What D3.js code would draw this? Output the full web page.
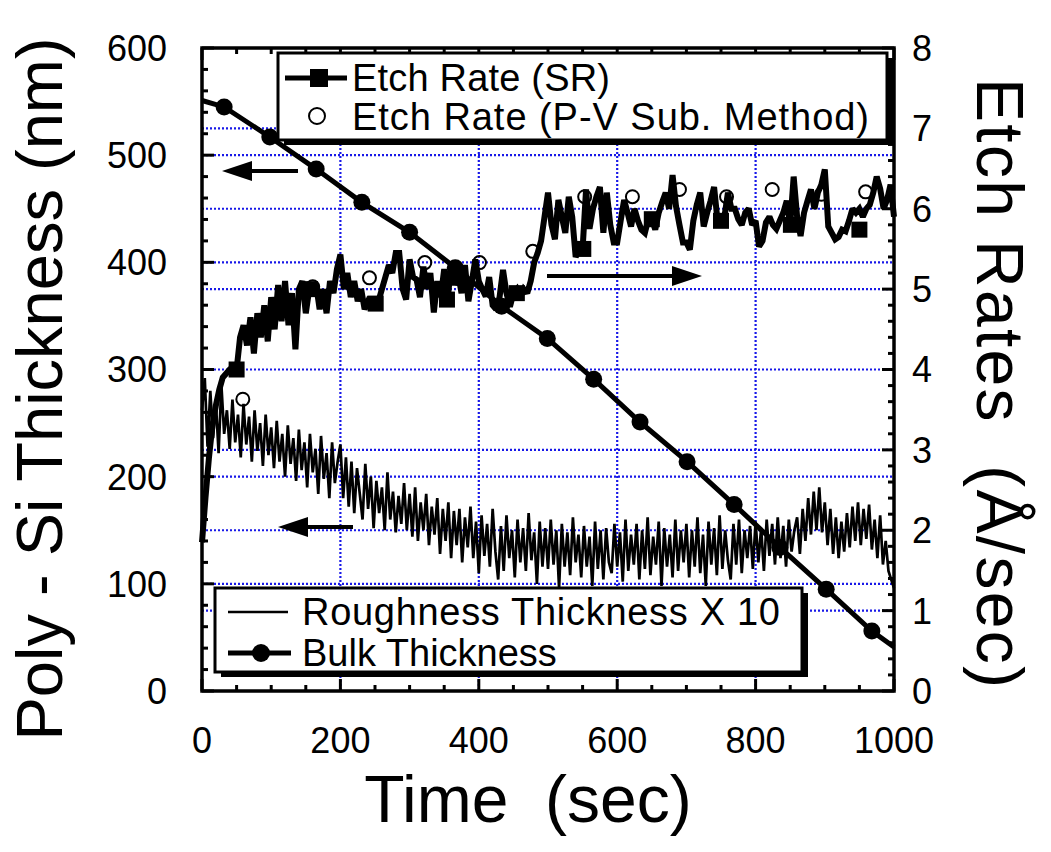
<!DOCTYPE html>
<html><head><meta charset="utf-8">
<script src="https://cdn.jsdelivr.net/npm/d3@7"></script>
<style>body{margin:0;background:#fff} svg{display:block} text{font-family:"Liberation Sans",Arial,sans-serif;fill:#000}</style>
</head><body><svg id="c" width="1051" height="852"></svg>
<script>
// ---------- data ----------
const xTicks = [0, 200, 400, 600, 800, 1000];
const leftTicks = [0, 100, 200, 300, 400, 500, 600];
const rightTicks = [0, 1, 2, 3, 4, 5, 6, 7, 8];

const bulkTime = [0, 32, 98, 165, 231, 300, 366, 433, 499, 566, 633, 701, 769, 835, 902, 968, 1000];
const bulkThickness = [551, 545, 517, 487, 456, 428, 395, 359, 329, 291, 251, 214, 174, 134, 95, 56, 41];
const bulkMarkerTime = [32, 98, 165, 231, 300, 366, 433, 499, 566, 633, 701, 769, 835, 902, 968];

const roughStep = 4;
const roughness = [
262,292,228,280,236,270,222,286,240,262,226,272,232,258,218,268,230,256,214,262,224,250,210,258,220,
246,208,252,214,240,200,248,212,236,196,244,206,232,190,240,204,226,184,238,198,222,180,232,194,214,
230,180,218,172,214,166,208,184,160,212,170,200,152,196,166,190,150,204,160,186,148,182,156,194,150,
184,144,190,140,176,150,184,136,172,146,180,128,170,140,176,124,168,136,170,120,162,134,172,124,158,
110,164,126,156,116,170,130,104,154,112,164,124,150,106,160,120,152,112,166,122,148,100,158,116,152,
114,160,118,150,96,156,116,148,108,162,120,146,106,154,116,144,98,158,114,150,104,152,120,110,156,
116,148,102,160,112,146,118,156,104,150,114,162,108,144,118,158,98,152,116,146,106,160,112,150,120,
156,106,150,116,162,110,146,98,158,118,152,108,164,114,150,122,104,156,118,160,110,150,124,154,114,
158,120,152,112,160,126,156,118,162,124,154,116,160,130,150,162,128,170,140,180,146,186,150,190,148,
176,136,170,128,162,124,158,130,166,134,172,140,176,136,170,142,174,132,160,124,164,118,140,112,104,96];

const srStep = 5;
const etchRateSR = [
1.85,2.4,2.9,3.3,3.55,3.75,3.9,3.95,4.0,4.0,4.0,4.4,4.55,4.3,4.65,4.2,4.7,4.4,4.8,4.35,
4.9,4.5,5.05,4.6,5.1,4.55,4.95,4.25,5.0,5.1,4.7,5.0,5.0,5.05,4.75,5.0,4.7,5.1,4.95,5.25,
5.43,5.0,5.2,4.9,5.1,4.85,5.0,4.75,4.85,4.8,4.82,4.85,5.0,5.15,5.3,5.2,5.45,5.45,5.0,4.87,
5.37,5.15,5.12,4.9,5.28,5.0,5.2,4.71,5.1,4.9,5.25,4.87,5.3,5.05,5.2,4.95,5.3,4.85,5.1,5.37,
5.1,5.0,4.91,5.15,4.8,4.75,4.9,5.24,4.95,4.78,4.95,5.0,4.9,5.0,4.95,5.1,5.33,5.45,5.6,5.9,
6.2,5.8,5.62,6.11,5.9,5.7,6.15,5.9,5.4,5.5,5.5,6.24,5.75,6.0,6.15,6.27,5.7,6.2,5.8,5.58,
5.58,5.85,6.11,5.95,5.78,6.0,5.85,5.74,5.7,5.87,5.87,5.74,5.95,6.08,6.2,6.0,6.42,6.03,5.8,5.58,
5.58,5.49,5.85,6.05,6.2,5.78,5.95,6.1,6.27,5.85,5.85,5.9,6.2,6.0,6.0,5.87,5.8,5.95,6.0,5.8,
5.85,5.53,5.6,5.83,5.9,5.8,5.75,5.85,5.95,6.1,5.8,6.4,5.9,5.66,5.95,6.1,6.24,6.0,6.2,6.3,
6.49,5.78,5.7,5.62,5.65,5.74,5.72,5.85,6.0,5.95,6.0,5.9,6.0,6.05,6.2,6.4,6.25,6.0,6.11,6.3,5.9];
const srMarkerTime = [50, 156, 251, 354, 455, 551, 650, 750, 851, 950];
const srMarkerRate = [4.0, 5.0, 4.82, 4.87, 4.95, 5.5, 5.87, 5.85, 5.8, 5.74];

const pvTime = [59, 160, 242, 322, 401, 478, 553, 622, 690, 758, 824, 895, 959];
const pvRate = [3.63, 5.03, 5.14, 5.33, 5.33, 5.47, 6.15, 6.15, 6.24, 6.15, 6.24, 6.18, 6.21];

// ---------- layout ----------
const svg = d3.select("#c");
const L = 202, R = 894, T = 48, B = 691;
const x = d3.scaleLinear().domain([0, 1000]).range([L, R]);
const yL = d3.scaleLinear().domain([0, 600]).range([B, T]);
const yR = d3.scaleLinear().domain([0, 8]).range([B, T]);
const grid = "#1818e8";

// grid
const g = svg.append("g");
[200, 400, 600, 800].forEach(v => g.append("line").attr("x1", x(v)).attr("x2", x(v)).attr("y1", T).attr("y2", B));
[100, 200, 300, 400, 500].forEach(v => g.append("line").attr("x1", L).attr("x2", R).attr("y1", yL(v)).attr("y2", yL(v)));
[1, 2, 3, 5, 6, 7].forEach(v => g.append("line").attr("x1", L).attr("x2", R).attr("y1", yR(v)).attr("y2", yR(v)));
g.selectAll("line").attr("stroke", grid).attr("stroke-width", 2.2).attr("stroke-dasharray", "2,2");

// data
const roughLine = d3.line().x((d, i) => x(i * roughStep)).y(d => yL(d));
svg.append("path").attr("d", roughLine(roughness)).attr("fill", "none").attr("stroke", "#000").attr("stroke-width", 2.7);

const bulkLine = d3.line().x((d, i) => x(bulkTime[i])).y(d => yL(d));
svg.append("path").attr("d", bulkLine(bulkThickness)).attr("fill", "none").attr("stroke", "#000").attr("stroke-width", 5);
const bulkAt = d3.scaleLinear().domain(bulkTime).range(bulkThickness);
bulkMarkerTime.forEach(t => svg.append("circle").attr("cx", x(t)).attr("cy", yL(bulkAt(t))).attr("r", 8.5).attr("fill", "#000"));

const srLine = d3.line().x((d, i) => x(i * srStep)).y(d => yR(d));
svg.append("path").attr("d", srLine(etchRateSR)).attr("fill", "none").attr("stroke", "#000").attr("stroke-width", 6).attr("stroke-linejoin", "miter").attr("stroke-miterlimit", 2);
srMarkerTime.forEach((t, i) => svg.append("rect").attr("x", x(t) - 8).attr("y", yR(srMarkerRate[i]) - 8).attr("width", 16).attr("height", 16).attr("fill", "#000"));

pvTime.forEach((t, i) => svg.append("circle").attr("cx", x(t)).attr("cy", yR(pvRate[i])).attr("r", 6.5).attr("fill", "none").attr("stroke", "#000").attr("stroke-width", 2));

// frame & ticks
const ax = svg.append("g").attr("stroke", "#000");
d3.range(0, 601, 20).forEach(v => { const len = v % 100 === 0 ? 12 : 6; ax.append("line").attr("x1", L).attr("x2", L + len).attr("y1", yL(v)).attr("y2", yL(v)).attr("stroke-width", 3); });
d3.range(0, 8.001, 0.2).forEach(v => { const major = Math.abs(v - Math.round(v)) < 1e-6; const len = major ? 12 : 6; ax.append("line").attr("x1", R).attr("x2", R - len).attr("y1", yR(v)).attr("y2", yR(v)).attr("stroke-width", 3); });
d3.range(0, 1001, 50).forEach(v => { const len = v % 200 === 0 ? 12 : 6;
  ax.append("line").attr("x1", x(v)).attr("x2", x(v)).attr("y1", B).attr("y2", B - len).attr("stroke-width", 3);
  ax.append("line").attr("x1", x(v)).attr("x2", x(v)).attr("y1", T).attr("y2", T + len).attr("stroke-width", 3); });
ax.append("rect").attr("x", L).attr("y", T).attr("width", R - L).attr("height", B - T).attr("fill", "none").attr("stroke-width", 3.5);

// tick labels
const fs = 36;
leftTicks.forEach(v => svg.append("text").attr("x", 167).attr("y", yL(v)).attr("dy", "0.36em").attr("text-anchor", "end").attr("font-size", fs).text(v));
rightTicks.forEach(v => svg.append("text").attr("x", 912).attr("y", yR(v)).attr("dy", "0.36em").attr("text-anchor", "start").attr("font-size", fs).text(v));
xTicks.forEach(v => svg.append("text").attr("x", x(v)).attr("y", 753).attr("text-anchor", "middle").attr("font-size", fs).text(v));

// axis titles
svg.append("text").attr("x", 528).attr("y", 822).attr("text-anchor", "middle").attr("font-size", 66).attr("xml:space", "preserve").text("Time  (sec)");
svg.append("text").attr("transform", "translate(62,389) rotate(-90)").attr("text-anchor", "middle").attr("font-size", 65).text("Poly - Si Thickness (nm)");
svg.append("text").attr("transform", "translate(977,383) rotate(90)").attr("text-anchor", "middle").attr("font-size", 66).attr("xml:space", "preserve").attr("textLength", 610).attr("lengthAdjust", "spacing").text("Etch Rates  (Å/sec)");

// arrows
function arrow(x1, x2, y) {
  const dir = x2 > x1 ? 1 : -1;
  svg.append("line").attr("x1", x1).attr("x2", x2 - dir * 25).attr("y1", y).attr("y2", y).attr("stroke", "#000").attr("stroke-width", 4);
  svg.append("path").attr("d", `M${x2},${y} L${x2 - dir * 30},${y - 10} L${x2 - dir * 30},${y + 10} Z`).attr("fill", "#000");
}
arrow(298, 222, 171);
arrow(547, 702, 276);
arrow(353, 278, 527);

// legends
function box(x0, y0, x1, y1) {
  svg.append("rect").attr("x", x0 + 6).attr("y", y0 + 5).attr("width", x1 - x0).attr("height", y1 - y0).attr("fill", "#000");
  svg.append("rect").attr("x", x0).attr("y", y0).attr("width", x1 - x0).attr("height", y1 - y0).attr("fill", "#fff").attr("stroke", "#000").attr("stroke-width", 3);
}
const lfs = 38;
box(278, 53, 887, 140);
svg.append("line").attr("x1", 285).attr("x2", 347).attr("y1", 78).attr("y2", 78).attr("stroke", "#000").attr("stroke-width", 5);
svg.append("rect").attr("x", 319 - 9).attr("y", 78 - 9).attr("width", 18).attr("height", 18).attr("fill", "#000");
svg.append("text").attr("x", 352).attr("y", 91).attr("font-size", lfs).attr("textLength", 258).attr("lengthAdjust", "spacing").text("Etch Rate (SR)");
svg.append("circle").attr("cx", 317).attr("cy", 116).attr("r", 8).attr("fill", "none").attr("stroke", "#000").attr("stroke-width", 2);
svg.append("text").attr("x", 352).attr("y", 130).attr("font-size", lfs).attr("textLength", 517).attr("lengthAdjust", "spacing").text("Etch Rate (P-V Sub. Method)");

box(215, 588, 802, 672);
svg.append("line").attr("x1", 228).attr("x2", 288).attr("y1", 612).attr("y2", 612).attr("stroke", "#000").attr("stroke-width", 2.5);
svg.append("text").attr("x", 302).attr("y", 625).attr("font-size", lfs).attr("textLength", 478).attr("lengthAdjust", "spacing").text("Roughness Thickness X 10");
svg.append("line").attr("x1", 228).attr("x2", 291).attr("y1", 653).attr("y2", 653).attr("stroke", "#000").attr("stroke-width", 5);
svg.append("circle").attr("cx", 261).attr("cy", 653).attr("r", 9).attr("fill", "#000");
svg.append("text").attr("x", 302).attr("y", 666).attr("font-size", lfs).text("Bulk Thickness");
</script></body></html>
